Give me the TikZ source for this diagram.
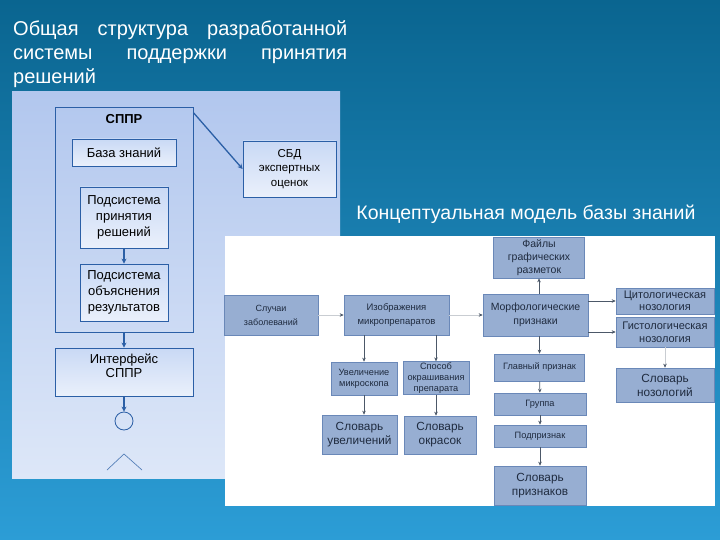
\documentclass[tikz,border=0pt]{standalone}
\usepackage{fontspec}
\setmainfont{Liberation Sans}
\usetikzlibrary{arrows.meta}
\definecolor{bgtop}{HTML}{0A6590}
\definecolor{bgbot}{HTML}{2C9DD6}
\definecolor{pantop}{HTML}{B2C7EE}
\definecolor{panbot}{HTML}{DDE7F8}
\definecolor{boxtop}{HTML}{C9D9F5}
\definecolor{boxbot}{HTML}{EAF0FB}
\definecolor{lline}{HTML}{2B5FA6}
\definecolor{rfill}{HTML}{97AED2}
\definecolor{rline}{HTML}{6A88B8}
\definecolor{rtext}{HTML}{1F2B3F}
\definecolor{rarrow}{HTML}{4C5868}
\tikzset{
    lbox/.style={draw=lline, line width=0.8pt, top color=boxtop, bottom color=boxbot,
        align=center, font=\fontsize{13}{16}\selectfont, inner sep=1pt},
    rbox/.style={draw=rline, line width=0.6pt, fill=rfill, text=rtext, align=center,
        font=\fontsize{9.5}{13.5}\selectfont, inner sep=1pt},
    rsmall/.style={rbox, font=\fontsize{9.2}{11}\selectfont},
    rdict/.style={rbox, font=\fontsize{11.8}{14}\selectfont},
    larr/.style={draw=lline, line width=1.3pt, -{Stealth[length=5pt,width=5pt]}},
    rarr/.style={draw=rarrow, line width=0.6pt, -{Stealth[length=4pt,width=3.5pt]}},
    farr/.style={draw=rarrow!30, line width=0.6pt, -{Stealth[length=4pt,width=3.5pt,color=rarrow]}},
}

\begin{document}
\begin{tikzpicture}[x=1pt,y=-1pt]
    \useasboundingbox (0,0) rectangle (720,540);
    \shade[top color=bgtop, bottom color=bgbot] (0,0) rectangle (720,540);

    % left part
    \node[anchor=north west, text width=334pt, align=justify, text=white, inner sep=0pt,
        font=\fontsize{20}{24}\selectfont] (title) at (13,20)
        {Общая структура разработанной системы поддержки принятия решений};
    \shade[top color=pantop, bottom color=panbot] (12,92) rectangle (340,478);
    \node[draw=lline, line width=0.8pt, minimum width=138pt, minimum height=225pt] (sppr) at (124,219.5) {};
    \node[font=\bfseries\fontsize{13}{15}\selectfont] (spprlbl) at (124,119) {СППР};
    \node[lbox, minimum width=104pt, minimum height=27pt] (kb) at (124,152.5) {База знаний};
    \node[lbox, minimum width=88pt, minimum height=61pt] (subdec) at (124,217.5) {Подсистема\\принятия\\решений};
    \node[lbox, minimum width=88pt, minimum height=57pt] (subexp) at (124,292.5) {Подсистема\\объяснения\\результатов};
    \node[lbox, minimum width=138pt, minimum height=48pt] (iface) at (124,372) {};
    \node[font=\fontsize{13}{14}\selectfont, align=center] (ifacelbl) at (124,366) {Интерфейс\\СППР};
    \node[lbox, minimum width=93pt, minimum height=56pt, font=\fontsize{11.5}{14.5}\selectfont] (sbd) at (289.5,169) {СБД\\экспертных\\оценок};
    \node[draw=lline, line width=0.8pt, circle, minimum size=18pt, inner sep=0pt] (circ) at (124,421) {};
    \draw[lline!80, line width=0.7pt] (107,470) -- (124,454) -- (142,470);

    \draw[larr] (subdec) -- (subexp);
    \draw[larr] (sppr) -- (iface);
    \draw[larr] (iface) -- (circ);
    \draw[larr] ([yshift=-6pt]sppr.north east) -- (sbd.west);

    % right part
    \node[text=white, anchor=base, font=\fontsize{19.5}{22}\selectfont] (concept) at (526,220) {Концептуальная модель базы знаний};
    \fill[white] (225,236) rectangle (715,506);
    \node[rbox, minimum width=91pt, minimum height=41pt, font=\fontsize{10.5}{13}\selectfont] (files) at (539,257.5) {Файлы\\графических\\разметок};
    \node[rbox, minimum width=94pt, minimum height=40pt, font=\fontsize{9}{14}\selectfont] (cases) at (271,315) {Случаи\\заболеваний};
    \node[rbox, minimum width=105pt, minimum height=40pt] (images) at (396.5,315) {Изображения\\микропрепаратов};
    \node[rbox, minimum width=105pt, minimum height=42pt, font=\fontsize{10.5}{14}\selectfont] (morph) at (535.5,315) {Морфологические\\признаки};
    \node[rbox, minimum width=98pt, minimum height=26pt, font=\fontsize{11}{12}\selectfont] (cyto) at (665,301) {Цитологическая\\нозология};
    \node[rbox, minimum width=98pt, minimum height=30pt, font=\fontsize{11}{13}\selectfont] (histo) at (665,332) {Гистологическая\\нозология};
    \node[rdict, minimum width=98pt, minimum height=34pt] (nosdict) at (665,385) {Словарь\\нозологий};
    \node[rsmall, minimum width=66pt, minimum height=33pt] (magn) at (364,378.5) {Увеличение\\микроскопа};
    \node[rsmall, minimum width=66pt, minimum height=32pt] (stain) at (436,378) {Способ\\окрашивания\\препарата};
    \node[rsmall, minimum width=90pt, minimum height=27pt] (mainf) at (539.5,367.5) {Главный признак};
    \node[rsmall, minimum width=92pt, minimum height=22pt] (group) at (540,404) {Группа};
    \node[rsmall, minimum width=92pt, minimum height=22pt] (subf) at (540,436) {Подпризнак};
    \node[rdict, minimum width=92pt, minimum height=39pt] (featdict) at (540,485.5) {Словарь\\признаков};
    \node[rdict, minimum width=75pt, minimum height=39pt] (magndict) at (359.5,434.5) {Словарь\\увеличений};
    \node[rdict, minimum width=72pt, minimum height=38pt] (staindict) at (440,435) {Словарь\\окрасок};

    \draw[farr] (cases) -- (images);
    \draw[farr] (images) -- (morph);
    \draw[rarr] (morph.north -| files.south) -- (files.south);
    \draw[rarr] (morph.east |- cyto.west) -- (cyto.west);
    \draw[rarr] (morph.east |- histo.west) -- (histo.west);
    \draw[farr] (histo.south) -- (nosdict.north);
    \draw[rarr] (images.south -| magn.north) -- (magn.north);
    \draw[rarr] (images.south -| stain.north) -- (stain.north);
    \draw[rarr] (magn.south) -- (magn.south |- magndict.north);
    \draw[rarr] (stain.south) -- (stain.south |- staindict.north);
    \draw[rarr] (morph.south -| mainf.north) -- (mainf.north);
    \draw[rarr] (mainf) -- (group);
    \draw[rarr] (group) -- (subf);
    \draw[rarr] (subf) -- (featdict);
\end{tikzpicture}
\end{document}
